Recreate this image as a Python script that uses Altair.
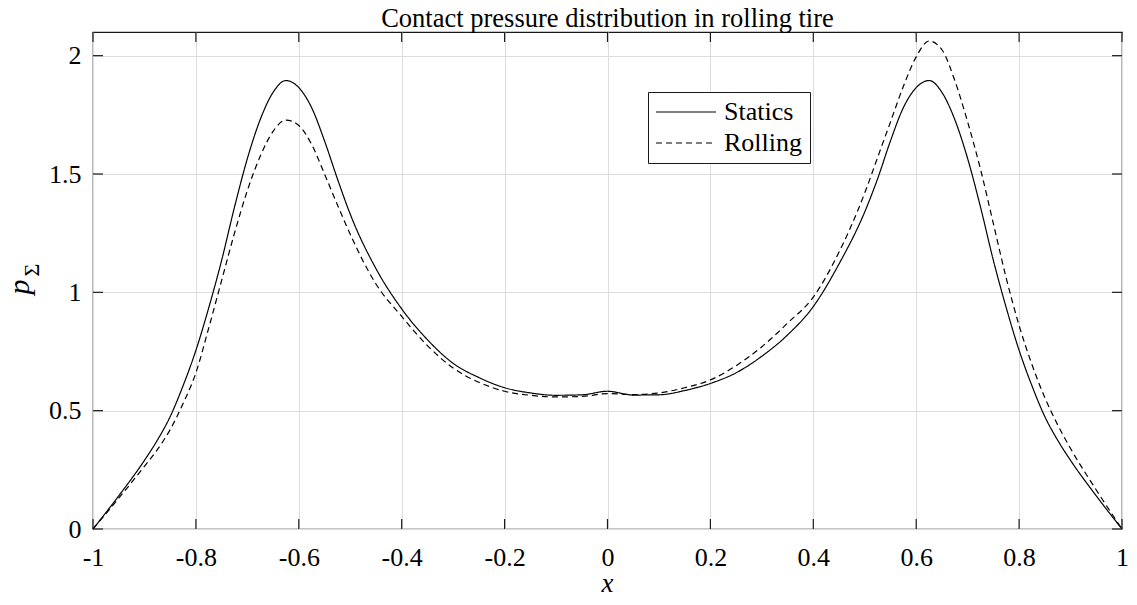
import altair as alt
import pandas as pd

# ---- data ----
x_vals = [-1, -0.95, -0.9, -0.875, -0.85, -0.825, -0.8, -0.775, -0.75, -0.725, -0.7, -0.675, -0.65,
          -0.625, -0.6, -0.575, -0.55, -0.525, -0.5, -0.45, -0.4, -0.35, -0.3, -0.25,
          -0.2, -0.15, -0.1, -0.05, 0, 0.05, 0.1, 0.15, 0.2, 0.25, 0.3, 0.35, 0.4,
          0.45, 0.5, 0.525, 0.55, 0.575, 0.6, 0.625, 0.65, 0.675, 0.7, 0.725, 0.75,
          0.775, 0.8, 0.825, 0.85, 0.875, 0.9, 0.95, 1]
statics = [0, 0.14, 0.29, 0.375, 0.475, 0.605, 0.755, 0.935, 1.135, 1.36, 1.565, 1.73, 1.845,
           1.895, 1.865, 1.78, 1.64, 1.48, 1.33, 1.10, 0.93, 0.80, 0.70, 0.64,
           0.597, 0.575, 0.565, 0.567, 0.582, 0.566, 0.567, 0.585, 0.615, 0.66, 0.73, 0.82, 0.94,
           1.12, 1.34, 1.48, 1.64, 1.78, 1.865, 1.895, 1.845, 1.73, 1.565, 1.36, 1.135,
           0.935, 0.755, 0.605, 0.475, 0.375, 0.29, 0.14, 0]
rolling = [0, 0.13, 0.265, 0.335, 0.42, 0.53, 0.66, 0.85, 1.05, 1.25, 1.43, 1.575, 1.68,
           1.728, 1.705, 1.625, 1.5, 1.37, 1.245, 1.035, 0.898, 0.775, 0.68, 0.62,
           0.582, 0.565, 0.558, 0.56, 0.572, 0.568, 0.575, 0.597, 0.63, 0.69, 0.77, 0.87, 0.98,
           1.17, 1.42, 1.57, 1.72, 1.87, 1.995, 2.062, 2.025, 1.895, 1.72, 1.52, 1.29,
           1.06, 0.86, 0.695, 0.555, 0.44, 0.34, 0.165, 0]
series_names = ["Statics", "Rolling"]
x_ticks = [-1, -0.8, -0.6, -0.4, -0.2, 0, 0.2, 0.4, 0.6, 0.8, 1]
y_ticks = [0, 0.5, 1, 1.5, 2]

title_text = "Contact pressure distribution in rolling tire"
x_title = "x"
y_title_main = "p"
y_title_sub = "Σ"

FONT = "Liberation Serif"
W, H = 1029, 497
TICK = 10
INK = "#1a1a1a"
HYPHEN_LABEL = "replace(datum.label, '\u2212', '-')"

df = pd.DataFrame({
    "x": x_vals * 2,
    "p": statics + rolling,
    "series": [series_names[0]] * len(x_vals) + [series_names[1]] * len(x_vals),
})
xt = pd.DataFrame({"t": x_ticks})
yt = pd.DataFrame({"t": y_ticks})
one = pd.DataFrame({"a": [0]})

xscale = alt.Scale(domain=[-1, 1], nice=False, zero=False)
yscale = alt.Scale(domain=[0, 2.1], nice=False, zero=False)

xaxis = alt.Axis(values=x_ticks, format="~g", labelExpr=HYPHEN_LABEL, title=None, grid=True,
                 ticks=False, tickSize=0, domain=False, labelFontSize=26, labelFont=FONT,
                 labelColor="black", labelPadding=15, gridColor="#dcdcdc", gridWidth=1,
                 labelFlush=False)
yaxis = alt.Axis(values=y_ticks, format="~g", labelExpr=HYPHEN_LABEL, title=None, grid=True,
                 ticks=False, tickSize=0, domain=False, labelFontSize=26, labelFont=FONT,
                 labelColor="black", labelPadding=12, gridColor="#dcdcdc", gridWidth=1,
                 labelFlush=False)

lines = alt.Chart(df).mark_line(color="black", strokeWidth=1.2, interpolate="monotone").encode(
    x=alt.X("x:Q", scale=xscale, axis=xaxis),
    y=alt.Y("p:Q", scale=yscale, axis=yaxis),
    strokeDash=alt.StrokeDash("series:N",
                              scale=alt.Scale(domain=series_names, range=[[1, 0], [6, 4]]),
                              legend=alt.Legend(title=None, orient="none", legendX=555, legendY=60,
                                                symbolType="stroke", symbolSize=3600,
                                                symbolStrokeWidth=1.2, symbolStrokeColor="black",
                                                clipHeight=26,
                                                labelFont=FONT, labelFontSize=26, labelColor="black",
                                                strokeColor=INK, fillColor="white",
                                                padding=7, rowPadding=5, labelOffset=7,
                                                cornerRadius=0)),
)

bottom_ticks = alt.Chart(xt).mark_rule(color=INK, strokeWidth=1.2).encode(
    x=alt.X("t:Q", scale=xscale, axis=xaxis), y=alt.value(H), y2=alt.value(H - TICK))
top_ticks = alt.Chart(xt).mark_rule(color=INK, strokeWidth=1.2).encode(
    x=alt.X("t:Q", scale=xscale, axis=xaxis), y=alt.value(0), y2=alt.value(TICK))
left_ticks = alt.Chart(yt).mark_rule(color=INK, strokeWidth=1.2).encode(
    y=alt.Y("t:Q", scale=yscale, axis=yaxis), x=alt.value(0), x2=alt.value(TICK))
right_ticks = alt.Chart(yt).mark_rule(color=INK, strokeWidth=1.2).encode(
    y=alt.Y("t:Q", scale=yscale, axis=yaxis), x=alt.value(W), x2=alt.value(W - TICK))

ytitle_p = alt.Chart(one).mark_text(text=y_title_main, font=FONT, fontSize=30, fontStyle="italic",
                                    angle=270, align="center", baseline="middle",
                                    color="black").encode(x=alt.value(-73), y=alt.value(255))
ytitle_s = alt.Chart(one).mark_text(text=y_title_sub, font=FONT, fontSize=22,
                                    angle=270, align="center", baseline="middle",
                                    color="black").encode(x=alt.value(-61), y=alt.value(238))
xtitle = alt.Chart(one).mark_text(text=x_title, font=FONT, fontSize=27, fontStyle="italic",
                                  align="center", baseline="alphabetic",
                                  color="black").encode(x=alt.value(W / 2), y=alt.value(H + 63))

chart = alt.layer(lines, bottom_ticks, top_ticks, left_ticks, right_ticks,
                  ytitle_p, ytitle_s, xtitle).properties(
    width=W, height=H,
    title=alt.TitleParams(title_text, font=FONT, fontSize=26.5, fontWeight="normal",
                          color="black", offset=-1),
    padding={"left": 85, "top": 24, "right": 7, "bottom": 66},
    autosize=alt.AutoSizeParams(type="none"),
    background="white",
).configure_view(stroke=INK, strokeWidth=1.2)

chart.save("out.html", embed_options={"renderer": "svg", "actions": False})
